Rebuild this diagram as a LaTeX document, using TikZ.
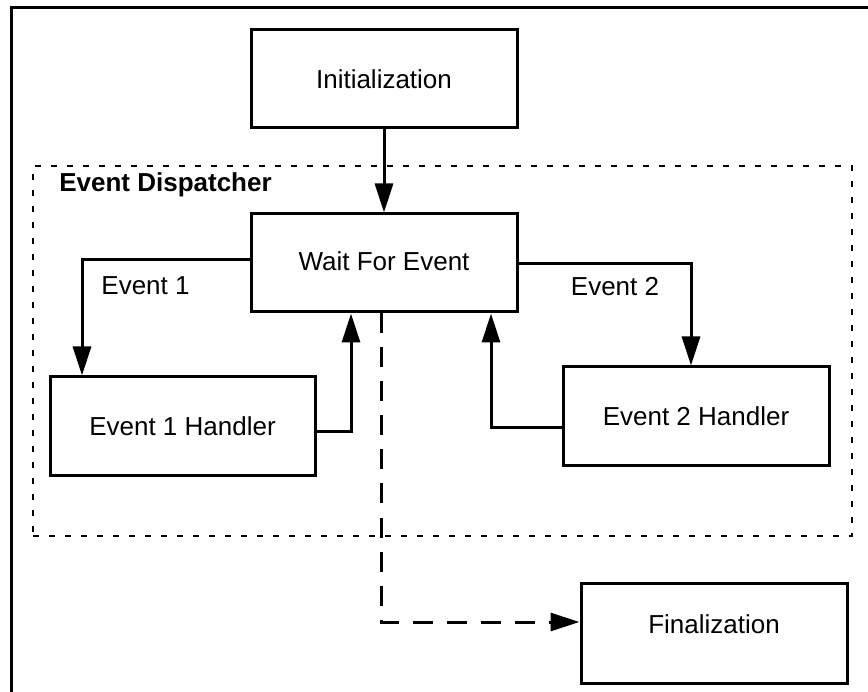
\documentclass[tikz,border=0pt]{standalone}
\usepackage{fontspec}
\setmainfont{Liberation Sans}
\usetikzlibrary{arrows.meta}
\tikzset{
  box/.style={draw, line width=3pt, inner sep=0pt, minimum width=266pt, minimum height=98pt, font=\fontsize{26}{31}\selectfont},
  lbl/.style={inner sep=0pt, font=\fontsize{26}{31}\selectfont},
  arr/.style={line width=3pt, -{Triangle[length=29pt,width=18pt]}},
  dispbox/.style={draw, line width=2.6pt, dash pattern=on 6pt off 10pt, inner sep=0pt},
  longdash/.style={dash pattern=on 20pt off 14pt}
}
\begin{document}
\begin{tikzpicture}[x=1pt,y=-1pt]
\useasboundingbox (0,0) rectangle (868,692);
% outer frame (cropped)
\draw[line width=3pt] (11,692) -- (11,7.5) -- (868,7.5);
% dispatcher area
\node[dispbox, minimum width=819pt, minimum height=370pt] (disp) at (442.5,351) {};
\node[lbl, font=\fontsize{26}{31}\selectfont\bfseries] (displbl) at (165.5,185) {Event Dispatcher};
% boxes
\node[box] (init) at (384,79) {Initialization};
\node[box] (wait) at (384,263) {\raisebox{3pt}{Wait For Event}};
\node[box, minimum width=265pt, minimum height=99pt] (e1h) at (182.5,426.5) {Event 1 Handler};
\node[box, minimum height=99pt] (e2h) at (696,416.5) {Event 2 Handler};
\node[box, minimum height=100pt] (fin) at (714,633) {\raisebox{18pt}{Finalization}};
% labels
\node[lbl] (ev1) at (145.5,286) {Event 1};
\node[lbl] (ev2) at (615,287) {Event 2};
% connectors
\coordinate (e1c) at (82,260);
\coordinate (r1) at (351,432);
\coordinate (e2c) at (691,264);
\coordinate (r2) at (491,428);
\coordinate (d) at (381,622);
\draw[arr] (init) -- (wait);
\draw[arr] (wait.west |- e1c) -- (e1c) -- (e1h.north -| e1c);
\draw[arr] (e1h.east |- r1) -- (r1) -- (wait.south -| r1);
\draw[arr] (wait.east |- e2c) -- (e2c) -- (e2h.north -| e2c);
\draw[arr] (e2h.west |- r2) -- (r2) -- (wait.south -| r2);
\draw[arr, longdash] (wait.south -| d) -- (d) -- (fin.west |- d);
\end{tikzpicture}
\end{document}
